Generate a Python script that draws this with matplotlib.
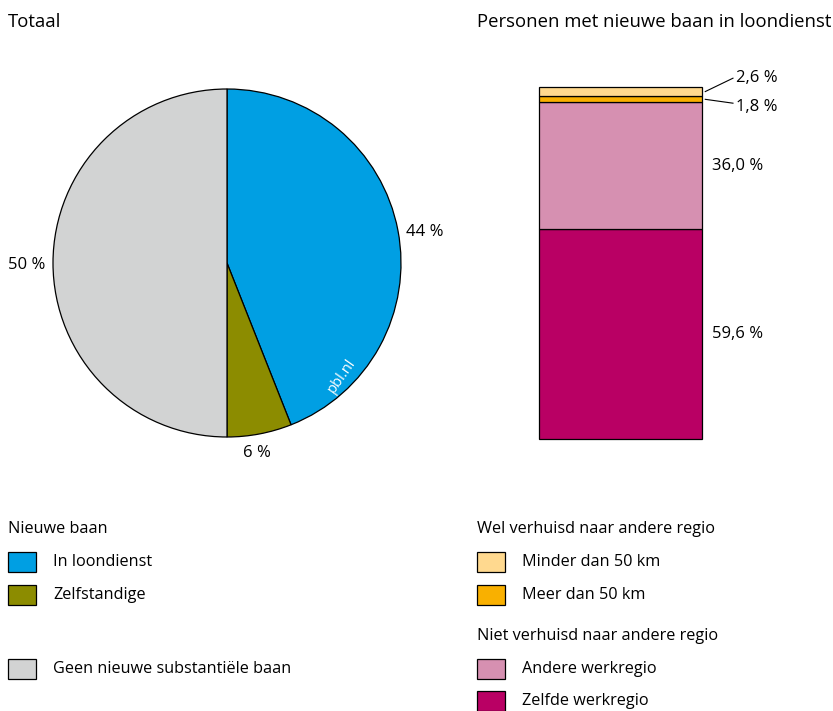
import matplotlib
matplotlib.use("Agg")
import matplotlib.pyplot as plt
from matplotlib.patches import Rectangle

plt.rcParams["font.family"] = ["Open Sans", "DejaVu Sans"]

# ---- data ----
pie_labels = ["In loondienst", "Zelfstandige", "Geen nieuwe substantiële baan"]
pie_values = [44, 6, 50]
pie_colors = ["#009FE3", "#8C8C00", "#D2D3D3"]

bar_labels = ["Zelfde werkregio", "Andere werkregio", "Meer dan 50 km", "Minder dan 50 km"]
bar_values = [59.6, 36.0, 1.8, 2.6]
bar_colors = ["#B90064", "#D690B1", "#F9B000", "#FFD98F"]

W, H = 833, 711
FS = 11.7        # legend text
FS_TITLE = 13.3  # panel titles
FS_VAL = 12      # value labels


def fx(px):
    return px / W


def fy(py):
    return 1 - py / H


fig = plt.figure(figsize=(W / 100, H / 100), dpi=100)

# ---- titles ----
fig.text(fx(8), fy(22), "Totaal", fontsize=FS_TITLE, va="center")
fig.text(fx(477), fy(22), "Personen met nieuwe baan in loondienst", fontsize=FS_TITLE, va="center")

# ---- pie ----
ax_pie = fig.add_axes([fx(53), fy(437), fx(348), 348 / H])
wedges, _ = ax_pie.pie(pie_values, colors=pie_colors, startangle=90, counterclock=False,
                       wedgeprops=dict(edgecolor="black", linewidth=0.9))
ax_pie.set_aspect("equal")
ax_pie.set_xlim(-1, 1)
ax_pie.set_ylim(-1, 1)
ax_pie.axis("off")

fig.text(fx(425), fy(232), f"{pie_values[0]} %", fontsize=FS_VAL, ha="center", va="center")
fig.text(fx(257), fy(453), f"{pie_values[1]} %", fontsize=FS_VAL, ha="center", va="center")
fig.text(fx(27), fy(265), f"{pie_values[2]} %", fontsize=FS_VAL, ha="center", va="center")
fig.text(fx(342), fy(376), "pbl.nl", fontsize=10.5, color="white", rotation=55,
         ha="center", va="center")

# ---- stacked bar ----
ax_bar = fig.add_axes([fx(539), fy(439), fx(163), 352 / H])
bottom = 0
for val, col in zip(bar_values, bar_colors):
    ax_bar.bar(0.5, val, width=1, bottom=bottom, color=col, edgecolor="black",
               linewidth=0.9, clip_on=False)
    bottom += val
ax_bar.set_xlim(0, 1)
ax_bar.set_ylim(0, 100)
ax_bar.axis("off")


def fmt(v):
    return f"{v:.1f}".replace(".", ",") + " %"


cum = [sum(bar_values[:i]) for i in range(len(bar_values))]
ax_bar.text(1.06, cum[0] + bar_values[0] / 2, fmt(bar_values[0]), fontsize=FS_VAL, va="center")
ax_bar.text(1.06, cum[1] + bar_values[1] / 2, fmt(bar_values[1]), fontsize=FS_VAL, va="center")

# small segments get leader lines
ax_bar.plot([1.02, 1.19], [cum[3] + bar_values[3] / 2, 102.5], color="black", lw=0.8, clip_on=False)
ax_bar.text(1.21, 102.6, fmt(bar_values[3]), fontsize=FS_VAL, va="center")
ax_bar.plot([1.02, 1.19], [cum[2] + bar_values[2] / 2, 95.4], color="black", lw=0.8, clip_on=False)
ax_bar.text(1.21, 94.2, fmt(bar_values[2]), fontsize=FS_VAL, va="center")


# ---- legends ----
def legend_item(x, y, color, label):
    fig.patches.append(Rectangle((fx(x), fy(y + 10)), fx(28), 20 / H, facecolor=color,
                                 edgecolor="black", linewidth=0.9, transform=fig.transFigure))
    fig.text(fx(x + 45), fy(y), label, fontsize=FS, va="center")


fig.text(fx(8), fy(529), "Nieuwe baan", fontsize=FS, va="center")
legend_item(8, 562, pie_colors[0], pie_labels[0])
legend_item(8, 595, pie_colors[1], pie_labels[1])
legend_item(8, 669, pie_colors[2], pie_labels[2])

fig.text(fx(477), fy(529), "Wel verhuisd naar andere regio", fontsize=FS, va="center")
legend_item(477, 562, bar_colors[3], bar_labels[3])
legend_item(477, 595, bar_colors[2], bar_labels[2])
fig.text(fx(477), fy(636), "Niet verhuisd naar andere regio", fontsize=FS, va="center")
legend_item(477, 669, bar_colors[1], bar_labels[1])
legend_item(477, 701, bar_colors[0], bar_labels[0])

fig.savefig("out.png", dpi=100)
